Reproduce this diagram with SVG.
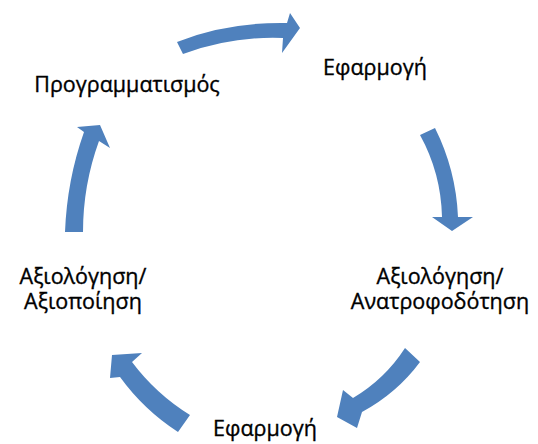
<svg xmlns="http://www.w3.org/2000/svg" width="538" height="444" viewBox="0 0 538 444">
<style>
.arrow{fill:#4F81BD;stroke:none}
.lbl{font-family:"Open Sans","Noto Sans","DejaVu Sans",sans-serif;font-size:21.5px;fill:#000;stroke:#000;stroke-width:0.35px;text-anchor:middle}
</style>
<rect width="538" height="444" fill="#fff"/>
<g id="connectors">
<path class="arrow" d="M177,42 Q225,22 287,23 L290,13 L300,28 L282,53 L283,38 Q232,36 183,54 Z"/>
<path class="arrow" d="M420,135 Q441,173 442,217 L432,217 L452,231 L473,217 L458,217 Q456,170 435,128 Z"/>
<path class="arrow" d="M405,348 Q385,379 353,398 L343,390 L337,417 L357,428 L362,412 Q397,393 420,362 Z"/>
<path class="arrow" d="M190,415 Q156,394 132,362 L142,353 L112,355 L110,378 L120,377 Q144,410 178,432 Z"/>
<path class="arrow" d="M65,232 Q67,180 84,132 L77,127 L100,125 L110,148 L99,141 Q83,185 83,232 Z"/>
</g>
<g id="node-programmatismos"><text class="lbl" x="127" y="92">Προγραμματισμός</text></g>
<g id="node-efarmogi-top"><text class="lbl" x="375" y="75">Εφαρμογή</text></g>
<g id="node-axiologisi-right"><text class="lbl" x="440" y="284">Αξιολόγηση/</text><text class="lbl" x="440" y="309">Ανατροφοδότηση</text></g>
<g id="node-efarmogi-bottom"><text class="lbl" x="265" y="436">Εφαρμογή</text></g>
<g id="node-axiologisi-left"><text class="lbl" x="83" y="284">Αξιολόγηση/</text><text class="lbl" x="83" y="309">Αξιοποίηση</text></g>
</svg>
